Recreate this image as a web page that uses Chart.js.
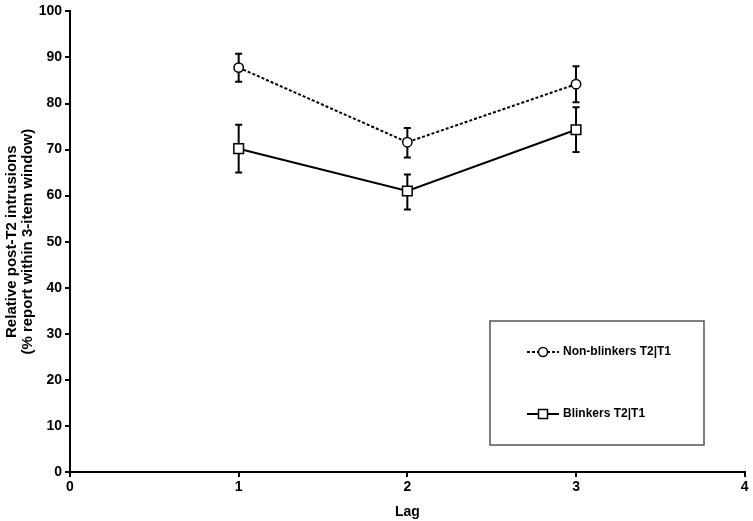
<!DOCTYPE html>
<html lang="en">
<head>
<meta charset="UTF-8">
<title>Relative post-T2 intrusions by lag</title>
<script src="https://cdn.jsdelivr.net/npm/chart.js@4.4.3/dist/chart.umd.min.js"></script>
<style>
  html, body { margin: 0; padding: 0; background: #fff; }
  #wrap { width: 753px; height: 521px; position: relative; }
</style>
</head>
<body>
<div id="wrap"><canvas id="chart"></canvas></div>
<script>
const lags = [1, 2, 3];

const nonBlinkers = [87.8, 71.6, 84.2];
const nonBlinkersLow = [84.7, 68.3, 80.3];
const nonBlinkersHigh = [90.8, 74.7, 88.1];

const blinkers = [70.2, 61.0, 74.3];
const blinkersLow = [65.0, 57.0, 69.5];
const blinkersHigh = [75.4, 64.6, 79.2];

const seriesNames = ['Non-blinkers T2|T1', 'Blinkers T2|T1'];
const yTitle = ['Relative post-T2 intrusions', '(% report within 3-item window)'];

const FONT = "'Liberation Sans', Arial, sans-serif";
Chart.defaults.font.family = FONT;
Chart.defaults.color = '#000';

// vertical error bars with caps
const errorBars = {
  id: 'errorBars',
  beforeDatasetsDraw(chart) {
    const { ctx, scales: { x, y } } = chart;
    ctx.save();
    ctx.strokeStyle = '#000';
    ctx.lineWidth = 2;
    chart.data.datasets.forEach(ds => {
      ds.data.forEach((p, i) => {
        const px = x.getPixelForValue(p.x);
        const top = y.getPixelForValue(ds.errHigh[i]);
        const bot = y.getPixelForValue(ds.errLow[i]);
        ctx.beginPath();
        ctx.moveTo(px, top); ctx.lineTo(px, bot);
        ctx.moveTo(px - 3.5, top); ctx.lineTo(px + 3.5, top);
        ctx.moveTo(px - 3.5, bot); ctx.lineTo(px + 3.5, bot);
        ctx.stroke();
      });
    });
    ctx.restore();
  }
};

// two-line y title, drawn by hand so the lines sit tight to the edge
const yTitlePlugin = {
  id: 'yTitle',
  afterDraw(chart) {
    const { ctx, chartArea } = chart;
    ctx.save();
    ctx.translate(0, (chartArea.top + chartArea.bottom) / 2);
    ctx.rotate(-Math.PI / 2);
    ctx.fillStyle = '#000';
    ctx.font = 'bold 15px ' + FONT;
    ctx.textAlign = 'center';
    ctx.textBaseline = 'middle';
    ctx.fillText(yTitle[0], 0, 12);
    ctx.fillText(yTitle[1], 0, 28);
    ctx.restore();
  }
};

// boxed legend inside the plot, bottom right
const boxLegend = {
  id: 'boxLegend',
  afterDraw(chart) {
    const { ctx } = chart;
    const bx = 490, by = 321, bw = 214, bh = 124;
    ctx.save();
    ctx.strokeStyle = '#555';
    ctx.lineWidth = 1.5;
    ctx.strokeRect(bx, by, bw, bh);
    const rows = [352, 414];
    chart.data.datasets.forEach((ds, i) => {
      const yy = rows[i];
      ctx.strokeStyle = '#000';
      ctx.lineWidth = 2;
      ctx.setLineDash(ds.borderDash || []);
      ctx.beginPath();
      ctx.moveTo(527, yy); ctx.lineTo(559, yy);
      ctx.stroke();
      ctx.setLineDash([]);
      ctx.fillStyle = '#fff';
      ctx.lineWidth = 1.5;
      if (ds.pointStyle === 'circle') {
        ctx.beginPath(); ctx.arc(543, yy, 4.5, 0, Math.PI * 2); ctx.fill(); ctx.stroke();
      } else {
        ctx.fillRect(538.5, yy - 4.5, 9, 9); ctx.strokeRect(538.5, yy - 4.5, 9, 9);
      }
      ctx.fillStyle = '#000';
      ctx.font = 'bold 12px ' + FONT;
      ctx.textBaseline = 'middle';
      ctx.fillText(ds.label, 563, yy);
    });
    ctx.restore();
  }
};

const mk = vals => vals.map((v, i) => ({ x: lags[i], y: v }));

new Chart(document.getElementById('chart'), {
  type: 'line',
  data: {
    datasets: [
      {
        label: seriesNames[0],
        data: mk(nonBlinkers),
        errLow: nonBlinkersLow, errHigh: nonBlinkersHigh,
        borderColor: '#000', borderWidth: 2, borderDash: [3, 2],
        pointStyle: 'circle', pointRadius: 4.7, pointBorderWidth: 1.5,
        pointBackgroundColor: '#fff', pointBorderColor: '#000',
        tension: 0
      },
      {
        label: seriesNames[1],
        data: mk(blinkers),
        errLow: blinkersLow, errHigh: blinkersHigh,
        borderColor: '#000', borderWidth: 2,
        pointStyle: 'rect', pointRadius: 6.8, pointBorderWidth: 1.5,
        pointBackgroundColor: '#fff', pointBorderColor: '#000',
        tension: 0
      }
    ]
  },
  options: {
    responsive: true,
    maintainAspectRatio: false,
    animation: false,
    layout: { padding: { left: 0, right: 8, top: 11, bottom: 0 } },
    plugins: { legend: { display: false }, tooltip: { enabled: false } },
    scales: {
      x: {
        type: 'linear', min: 0, max: 4,
        ticks: { stepSize: 1, font: { size: 14, weight: 'bold' }, padding: 2 },
        grid: { drawOnChartArea: false, drawTicks: true, tickLength: 5, color: '#000', lineWidth: 2 },
        border: { color: '#000', width: 2 },
        title: { display: true, text: 'Lag', font: { size: 14, weight: 'bold' }, padding: { top: 2, bottom: 0 } },
        afterFit: s => { s.height = 49; }
      },
      y: {
        min: 0, max: 100,
        ticks: { stepSize: 10, font: { size: 14, weight: 'bold' }, padding: 3 },
        grid: { drawOnChartArea: false, drawTicks: true, tickLength: 5, color: '#000', lineWidth: 2 },
        border: { color: '#000', width: 2 },
        afterFit: s => { s.width = 70; }
      }
    }
  },
  plugins: [errorBars, yTitlePlugin, boxLegend]
});
</script>
</body>
</html>
